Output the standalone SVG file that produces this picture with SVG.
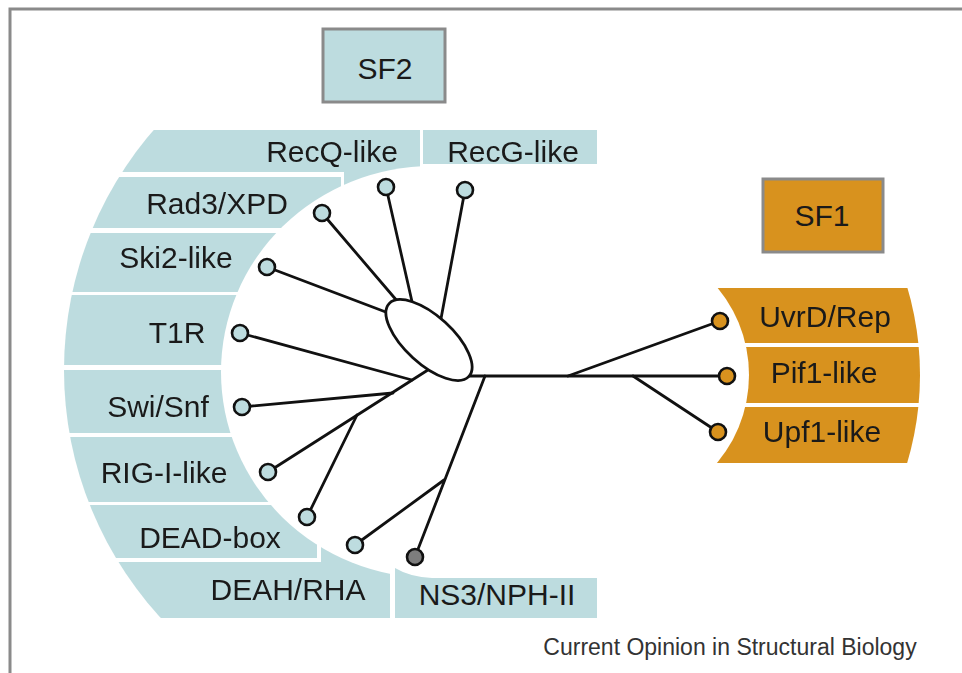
<svg xmlns="http://www.w3.org/2000/svg" width="962" height="673" viewBox="0 0 962 673">
<style>
.b2{fill:#bddcdf}
.b1{fill:#d8921e}
.lbl{font-family:"Liberation Sans",Arial,sans-serif;font-size:30px;fill:#1a1a1a;text-anchor:middle}
.box{stroke:#8a8a8a;stroke-width:3}
.ln{stroke:#111;stroke-width:2.8;fill:none;stroke-linecap:round}
.lf2{fill:#bddcdf;stroke:#111;stroke-width:2.6}
.lf1{fill:#d8921e;stroke:#111;stroke-width:2.6}
.lfg{fill:#7d7d7d;stroke:#111;stroke-width:2.6}
</style>
<defs>
<clipPath id="outer2"><circle cx="430" cy="370" r="366"/></clipPath>
<mask id="inner2" maskUnits="userSpaceOnUse" x="0" y="0" width="962" height="673">
<rect x="0" y="0" width="962" height="673" fill="#fff"/>
<ellipse cx="432" cy="372" rx="211" ry="206" fill="#000"/>
</mask>
<mask id="ring1" maskUnits="userSpaceOnUse" x="0" y="0" width="962" height="673">
<circle cx="612" cy="375" r="308" fill="#fff"/>
<circle cx="612" cy="375" r="137" fill="#000"/>
</mask>
</defs>
<rect x="0" y="0" width="962" height="673" fill="#fff"/>
<path d="M10,673 V9 H962" fill="none" stroke="#8a8a8a" stroke-width="3"/>

<g id="sf2">
<rect class="b2 box" x="323" y="29" width="122" height="73"/>
<text class="lbl" x="385" y="79">SF2</text>
</g>
<g id="sf1">
<rect class="b1 box" x="763" y="179" width="120" height="73"/>
<text class="lbl" x="822" y="226">SF1</text>
</g>

<g id="sf2-bands" clip-path="url(#outer2)">
<g mask="url(#inner2)">
<g id="recq"><path class="b2" d="M60,130 H420 V240 H344 V172 H60 Z"/><text class="lbl" x="332" y="162">RecQ-like</text></g>
<g id="recg"><rect class="b2" x="423" y="130" width="174" height="34"/><text class="lbl" x="513" y="162">RecG-like</text></g>
<g id="rad3"><rect class="b2" x="60" y="177" width="281" height="51"/><text class="lbl" x="217" y="214">Rad3/XPD</text></g>
<g id="ski2"><rect class="b2" x="60" y="233" width="400" height="59"/><text class="lbl" x="176" y="268">Ski2-like</text></g>
<g id="t1r"><rect class="b2" x="60" y="295" width="400" height="70"/><text class="lbl" x="177" y="343">T1R</text></g>
<g id="swisnf"><rect class="b2" x="60" y="370" width="400" height="63"/><text class="lbl" x="158" y="417">Swi/Snf</text></g>
<g id="rigi"><rect class="b2" x="60" y="437" width="400" height="65"/><text class="lbl" x="164" y="483">RIG-I-like</text></g>
<g id="deadbox"><rect class="b2" x="60" y="505" width="257" height="53"/><text class="lbl" x="210" y="548">DEAD-box</text></g>
<g id="deah"><path class="b2" d="M60,562 H321 V480 H390 V618 H60 Z"/><text class="lbl" x="288" y="600">DEAH/RHA</text></g>
</g>
</g>
<g id="ns3"><path class="b2" d="M395,568 Q410,577 432,578 H597 V618 H395 Z"/><text class="lbl" x="497" y="605">NS3/NPH-II</text></g>

<g id="sf1-bands" mask="url(#ring1)">
<g id="uvrd"><rect class="b1" x="690" y="288" width="250" height="55"/><text class="lbl" x="825" y="327">UvrD/Rep</text></g>
<g id="pif1"><rect class="b1" x="690" y="347" width="250" height="56"/><text class="lbl" x="824" y="383">Pif1-like</text></g>
<g id="upf1"><rect class="b1" x="690" y="407" width="250" height="56"/><text class="lbl" x="822" y="442">Upf1-like</text></g>
</g>

<g id="connectors">
<line class="ln" x1="386" y1="187" x2="413" y2="306"/>
<line class="ln" x1="465" y1="190" x2="440" y2="324"/>
<line class="ln" x1="322" y1="213" x2="398" y2="302"/>
<line class="ln" x1="267" y1="267" x2="391" y2="314"/>
<line class="ln" x1="431" y1="368" x2="268" y2="472"/>
<line class="ln" x1="240" y1="333" x2="412" y2="380"/>
<line class="ln" x1="242" y1="407" x2="393" y2="393"/>
<line class="ln" x1="307" y1="517" x2="357" y2="415"/>
<line class="ln" x1="464" y1="376" x2="727" y2="376" stroke-width="3"/>
<line class="ln" x1="485" y1="376" x2="415" y2="557"/>
<line class="ln" x1="355" y1="545" x2="444" y2="480"/>
<line class="ln" x1="720" y1="321" x2="568" y2="376"/>
<line class="ln" x1="718" y1="432" x2="633" y2="376"/>
<ellipse cx="429" cy="340" rx="54" ry="24" transform="rotate(42.4 429 340)" fill="#fff" stroke="#111" stroke-width="2.8"/>
</g>

<g id="leaves">
<circle class="lf2" cx="386" cy="187" r="8"/>
<circle class="lf2" cx="465" cy="190" r="8"/>
<circle class="lf2" cx="322" cy="213" r="8"/>
<circle class="lf2" cx="267" cy="267" r="8"/>
<circle class="lf2" cx="240" cy="333" r="8"/>
<circle class="lf2" cx="242" cy="407" r="8"/>
<circle class="lf2" cx="268" cy="472" r="8"/>
<circle class="lf2" cx="307" cy="517" r="8"/>
<circle class="lf2" cx="355" cy="545" r="8"/>
<circle class="lfg" cx="415" cy="557" r="8"/>
<circle class="lf1" cx="720" cy="321" r="8"/>
<circle class="lf1" cx="727" cy="376" r="8"/>
<circle class="lf1" cx="718" cy="432" r="8"/>
</g>

<text x="730" y="655" style="font-family:'Liberation Sans',Arial,sans-serif;font-size:23px;fill:#333;text-anchor:middle">Current Opinion in Structural Biology</text>
</svg>
